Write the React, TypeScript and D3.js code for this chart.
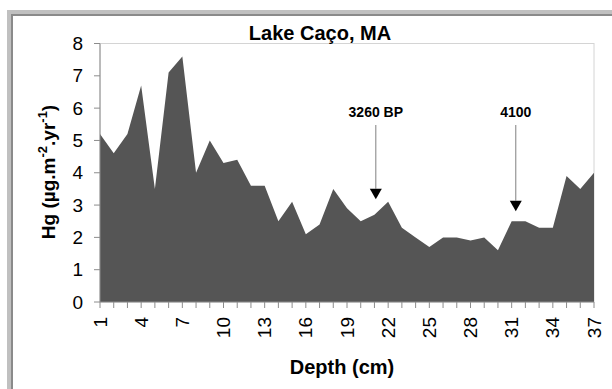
import React from "react";
import * as d3 from "d3";

const depths = [1,2,3,4,5,6,7,8,9,10,11,12,13,14,15,16,17,18,19,20,21,22,23,24,25,26,27,28,29,30,31,32,33,34,35,36,37];
const hgValues = [5.2,4.6,5.2,6.7,3.5,7.1,7.6,4.0,5.0,4.3,4.4,3.6,3.6,2.5,3.1,2.1,2.4,3.5,2.9,2.5,2.7,3.1,2.3,2.0,1.7,2.0,2.0,1.9,2.0,1.6,2.5,2.5,2.3,2.3,3.9,3.5,4.0];
const xTickLabels = [1,4,7,10,13,16,19,22,25,28,31,34,37];
const yTicks = [0,1,2,3,4,5,6,7,8];
const arrowLabels = ["3260 BP", "4100"];
const arrowDepths = [21.1, 31.3];
const arrowTipValues = [3.18, 2.81];

const FONT = "'Liberation Sans', Arial, sans-serif";

export default function App() {
  const W = 612, H = 389;
  const left = 100, right = 594, top = 43.5, bottom = 302;
  const x = d3.scaleLinear().domain([1, 37]).range([left, right]);
  const y = d3.scaleLinear().domain([0, 8]).range([bottom, top]);
  const area = d3.area<number>()
    .x((_, i) => x(depths[i]))
    .y0(y(0))
    .y1((d) => y(d));
  const lineTop = 125;
  const triH = 10.5, triW = 6;
  return (
    <svg width={W} height={H} style={{ position: "fixed", left: 0, top: 0, background: "#fff" }} fontFamily={FONT}>
      {/* outer frame */}
      <rect x={7} y={10} width={W} height={H} fill="none" stroke="#c0c0c0" strokeWidth={0} />
      <rect x={7} y={10} width={W - 7} height={4} fill="#c0c0c0" />
      <rect x={11} y={14} width={W - 11} height={2} fill="#8a8a8a" />
      <rect x={7} y={10} width={4} height={H - 10} fill="#c0c0c0" />
      <rect x={11} y={14} width={2} height={H - 14} fill="#8a8a8a" />

      {/* plot border */}
      <rect x={left} y={top} width={right - left} height={bottom - top} fill="none" stroke="#d4d4d4" strokeWidth={1} />

      {/* area */}
      <path d={area(hgValues) || ""} fill="#555555" />

      {/* axes */}
      <line x1={left} x2={left} y1={top} y2={bottom} stroke="#8c8c8c" />
      <line x1={left} x2={right} y1={bottom} y2={bottom} stroke="#8c8c8c" />
      {yTicks.map((t) => (
        <g key={"y" + t}>
          <line x1={left - 6} x2={left} y1={y(t)} y2={y(t)} stroke="#8c8c8c" />
          <text x={83} y={y(t)} dy="0.35em" textAnchor="end" fontSize={19} fill="#000">{t}</text>
        </g>
      ))}
      {depths.map((d) => (
        <line key={"xt" + d} x1={x(d)} x2={x(d)} y1={bottom} y2={bottom + 6} stroke="#8c8c8c" />
      ))}
      {xTickLabels.map((d) => (
        <text key={"xl" + d} transform={`translate(${x(d)},317) rotate(-90)`} dy="0.35em" textAnchor="end" fontSize={19} fill="#000">{d}</text>
      ))}

      {/* titles */}
      <text x={320} y={40} textAnchor="middle" fontSize={20} fontWeight="bold">Lake Caço, MA</text>
      <text x={342} y={374} textAnchor="middle" fontSize={20} fontWeight="bold">Depth (cm)</text>
      <text transform="translate(55,172) rotate(-90)" textAnchor="middle" fontSize={19} fontWeight="bold">
        Hg (µg.m<tspan fontSize={13} dy={-8}>-2</tspan><tspan dy={8}>.yr</tspan><tspan fontSize={13} dy={-8}>-1</tspan><tspan dy={8}>)</tspan>
      </text>

      {/* arrows */}
      {arrowDepths.map((d, i) => {
        const ax = x(d);
        const tip = y(arrowTipValues[i]);
        return (
          <g key={"a" + i}>
            <text x={ax} y={117} textAnchor="middle" fontSize={14} fontWeight="bold">{arrowLabels[i]}</text>
            <line x1={ax} x2={ax} y1={lineTop} y2={tip - triH} stroke="#808080" strokeWidth={1} />
            <path d={`M${ax - triW},${tip - triH} L${ax + triW},${tip - triH} L${ax},${tip} Z`} fill="#000" />
          </g>
        );
      })}
    </svg>
  );
}
